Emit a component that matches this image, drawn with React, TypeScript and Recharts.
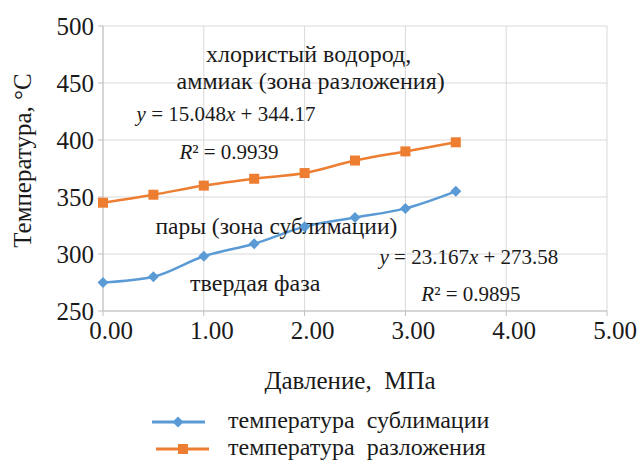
import { LineChart, Line, XAxis, YAxis, CartesianGrid, Legend, ReferenceDot } from 'recharts';

const pressure = [0, 0.5, 1, 1.5, 2, 2.5, 3, 3.5];
const sublimationTemp = [275, 280, 298, 309, 324, 332, 340, 355];
const decompositionTemp = [345, 352, 360, 366, 371, 382, 390, 398];
const xTicks = [0, 1, 2, 3, 4, 5];
const yTicks = [250, 300, 350, 400, 450, 500];
const seriesNames = ['температура  сублимации', 'температура  разложения'];

type Part = { t: string; i?: boolean };
const notes: { x: number; y: number; size: number; parts: Part[] }[] = [
  { x: 2.04, y: 476, size: 24, parts: [{ t: 'хлористый водород,' }] },
  { x: 2.06, y: 452.5, size: 24, parts: [{ t: 'аммиак (зона разложения)' }] },
  { x: 1.22, y: 423.5, size: 21, parts: [{ t: 'y', i: true }, { t: ' = 15.048' }, { t: 'x', i: true }, { t: ' + 344.17' }] },
  { x: 1.25, y: 389.5, size: 21, parts: [{ t: 'R', i: true }, { t: '² = 0.9939' }] },
  { x: 1.72, y: 324.5, size: 23.5, parts: [{ t: 'пары (зона сублимации)' }] },
  { x: 1.51, y: 274.5, size: 24, parts: [{ t: 'твердая фаза' }] },
  { x: 3.63, y: 298, size: 21, parts: [{ t: 'y', i: true }, { t: ' = 23.167' }, { t: 'x', i: true }, { t: ' + 273.58' }] },
  { x: 3.65, y: 265, size: 21, parts: [{ t: 'R', i: true }, { t: '² = 0.9895' }] },
];

const data = pressure.map((p, i) => ({
  p,
  sub: sublimationTemp[i],
  dec: decompositionTemp[i],
}));

const FONT = 'Liberation Serif, Tinos, DejaVu Serif, Noto Serif, serif';
const TEXT = '#1a1a1a';
const BLUE = '#5B9BD5';
const ORANGE = '#ED7D31';
const GRID = '#d9d9d9';

function Diamond({ cx, cy }: any) {
  if (cx == null || cy == null) return null;
  const s = 5.5;
  return <path d={`M${cx},${cy - s}L${cx + s},${cy}L${cx},${cy + s}L${cx - s},${cy}Z`} fill={BLUE} />;
}

function Square({ cx, cy }: any) {
  if (cx == null || cy == null) return null;
  const s = 5;
  return <rect x={cx - s} y={cy - s} width={s * 2} height={s * 2} fill={ORANGE} />;
}

function NoteText({ viewBox, parts, size }: any) {
  if (!viewBox) return null;
  return (
    <text x={viewBox.x} y={viewBox.y} dy="0.35em" textAnchor="middle" fontFamily={FONT} fontSize={size} fill={TEXT}>
      {parts.map((p: Part, k: number) => (
        <tspan key={k} fontStyle={p.i ? 'italic' : 'normal'} style={{ whiteSpace: 'pre' }}>{p.t}</tspan>
      ))}
    </text>
  );
}

function YTitle({ viewBox }: any) {
  if (!viewBox) return null;
  const x = viewBox.x + 22;
  const y = viewBox.y + viewBox.height / 2 - 8;
  return (
    <text x={x} y={y} transform={`rotate(-90 ${x} ${y})`} textAnchor="middle" dy="0.35em" fontFamily={FONT} fontSize={25} fill={TEXT}>
      Температура, °С
    </text>
  );
}

function XTitle({ viewBox }: any) {
  if (!viewBox) return null;
  return (
    <text x={viewBox.x + viewBox.width / 2 - 5} y={viewBox.y + 69} textAnchor="middle" dy="0.35em" fontFamily={FONT} fontSize={25} fill={TEXT} style={{ whiteSpace: 'pre' }}>
      Давление,  МПа
    </text>
  );
}

function LegendContent({ payload }: any) {
  const items = [...(payload || [])].sort((a: any) => (a.dataKey === 'sub' ? -1 : 1));
  return (
    <div style={{ fontFamily: FONT, fontSize: 24, color: TEXT }}>
      {items.map((item: any, k: number) => {
        const isSub = item.dataKey === 'sub';
        const off = isSub ? 0 : 4;
        return (
          <div key={k} style={{ display: 'flex', alignItems: 'center', height: 27, lineHeight: '27px' }}>
            <svg width={76} height={20} style={{ flex: 'none' }}>
              <line x1={off} x2={off + 53} y1={11} y2={11} stroke={item.color} strokeWidth={3} />
              {isSub ? <Diamond cx={off + 26} cy={11} /> : <Square cx={off + 27} cy={11} />}
            </svg>
            <span style={{ whiteSpace: 'pre' }}>{item.value}</span>
          </div>
        );
      })}
    </div>
  );
}

export default function App() {
  return (
    <div style={{ position: 'absolute', top: 0, left: 0, width: 642, height: 460, background: '#fff', overflow: 'hidden' }}>
      <LineChart width={642} height={460} data={data} margin={{ top: 26, right: 35, left: 0, bottom: 69 }}>
        <CartesianGrid stroke={GRID} strokeWidth={1} />
        <XAxis
          dataKey="p"
          type="number"
          domain={[0, 5]}
          ticks={xTicks}
          tickFormatter={(v: number) => v.toFixed(2)}
          tick={{ fontSize: 25, fill: TEXT, fontFamily: FONT, dx: 8 }}
          stroke="#bfbfbf"
          tickSize={5}
          tickMargin={5}
          height={80}
          label={<XTitle />}
        />
        <YAxis
          type="number"
          domain={[250, 500]}
          ticks={yTicks}
          tick={{ fontSize: 25, fill: TEXT, fontFamily: FONT }}
          stroke="#bfbfbf"
          tickSize={5}
          tickMargin={4}
          width={103}
          label={<YTitle />}
        />
        {notes.map((n, k) => (
          <ReferenceDot key={k} x={n.x} y={n.y} r={0} fill="none" stroke="none" ifOverflow="visible" label={<NoteText parts={n.parts} size={n.size} />} />
        ))}
        <Line
          dataKey="sub"
          name={seriesNames[0]}
          type="monotone"
          stroke={BLUE}
          strokeWidth={2.5}
          dot={<Diamond />}
          activeDot={false}
          isAnimationActive={false}
        />
        <Line
          dataKey="dec"
          name={seriesNames[1]}
          type="monotone"
          stroke={ORANGE}
          strokeWidth={2.5}
          dot={<Square />}
          activeDot={false}
          isAnimationActive={false}
        />
        <Legend
          layout="horizontal"
          verticalAlign="middle"
          align="center"
          content={<LegendContent />}
          wrapperStyle={{ top: 407, left: 152, width: 460 }}
        />
      </LineChart>
    </div>
  );
}
